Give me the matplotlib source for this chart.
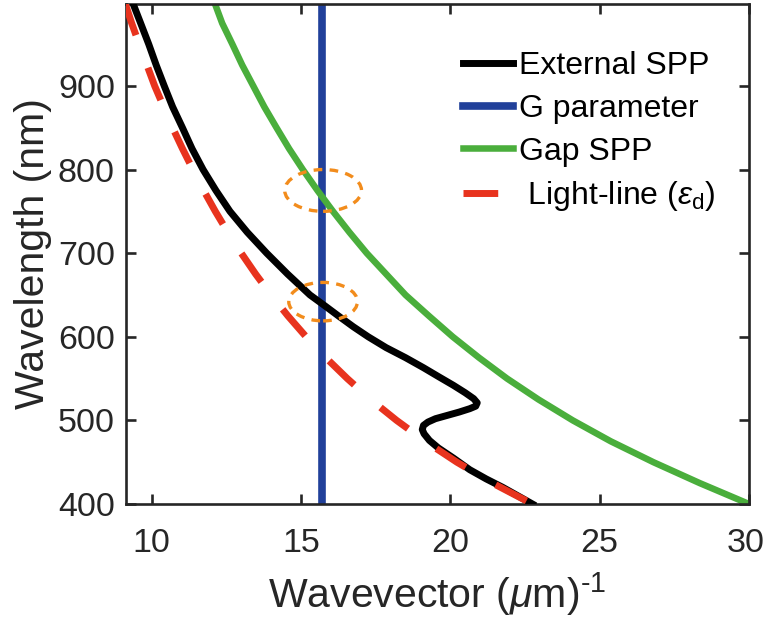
import matplotlib
matplotlib.use("Agg")
import matplotlib.pyplot as plt
from matplotlib.patches import Ellipse
from matplotlib.transforms import ScaledTranslation

plt.rcParams["font.family"] = ["Liberation Sans", "DejaVu Sans"]
plt.rcParams["mathtext.fontset"] = "custom"
plt.rcParams["mathtext.rm"] = "Liberation Sans"
plt.rcParams["mathtext.it"] = "Liberation Sans:italic"

# External SPP (wavevector in 1/um, wavelength in nm)
ext_k = [9.38, 9.63, 9.9, 10.15, 10.42, 10.7, 11.03, 11.35, 11.72, 12.15, 12.62,
         13.2, 13.85, 14.55, 15.3, 15.8, 16.25, 16.75, 17.25, 17.85, 18.5, 19.1,
         19.62, 20.1, 20.5, 20.78, 20.9, 20.85, 20.65, 20.3, 19.9, 19.5, 19.25,
         19.1, 19.06, 19.12, 19.3, 19.6, 20.1, 20.65, 21.2, 21.75, 22.25, 22.75]
ext_wl = [998, 975, 950, 925, 900, 875, 850, 825, 800, 775, 750,
          725, 700, 675, 650, 637, 625, 612, 600, 587, 575, 563,
          552, 542, 533, 526, 521, 517, 514, 510, 506, 502, 498,
          494, 489, 484, 476, 467, 455, 441, 430, 420, 410, 400]

# Gap SPP
gap_wl = [1000, 975, 950, 925, 900, 875, 850, 825, 800, 775, 750, 725, 700,
          675, 650, 625, 600, 575, 550, 525, 500, 475, 450, 425, 400]
gap_k = [12.1, 12.36, 12.7, 13.03, 13.4, 13.77, 14.18, 14.6, 15.06, 15.55, 16.07,
         16.62, 17.2, 17.85, 18.5, 19.28, 20.08, 20.96, 21.9, 22.95, 24.1, 25.37,
         26.8, 28.35, 30.0]

# light line
light_wl = [1000, 975, 950, 925, 900, 875, 850, 825, 800, 775, 750, 725, 700,
            675, 650, 625, 600, 575, 550, 525, 500, 475, 450, 425, 400]
light_k = [9.1, 9.33, 9.58, 9.84, 10.1, 10.4, 10.7, 11.03, 11.38, 11.74, 12.13,
           12.55, 13.0, 13.48, 14.0, 14.56, 15.17, 15.83, 16.55, 17.33, 18.2,
           19.16, 20.22, 21.41, 22.75]

# G parameter
g_k = 15.7

# highlighted crossings (center k, center wl, width, height)
ring_k = [15.74, 15.74]
ring_wl = [775, 642]
ring_w = [2.57, 2.3]
ring_h = [50, 46]

axis_col = "#262626"

fig = plt.figure(figsize=(7.66, 6.30), dpi=100)
ax = fig.add_axes([0.1645, 0.2, 0.8133, 0.7937])

ax.plot(ext_k, ext_wl, color="black", lw=5, label="External SPP",
        solid_joinstyle="round", zorder=3)
ax.axvline(g_k, color="#21409a", lw=5.5, label="G parameter", zorder=2)
ax.plot(gap_k, gap_wl, color="#4aae3c", lw=4.7, label="Gap SPP",
        solid_joinstyle="round", zorder=2)
ax.plot(light_k, light_wl, color="#e8331e", lw=5, ls=(0, (5, 5)),
        label=r" Light-line ($\epsilon_\mathrm{d}$)", dash_capstyle="butt", zorder=4)

for k, wl, w, h in zip(ring_k, ring_wl, ring_w, ring_h):
    ax.add_patch(Ellipse((k, wl), w, h, fill=False, ec="#f28c1c", lw=2.4,
                         ls=(0, (2.6, 2.2)), zorder=5))

ax.set_xlim(9.14, 30)
ax.set_ylim(400, 998)
ax.set_xticks([10, 15, 20, 25, 30])
ax.set_yticks([400, 500, 600, 700, 800, 900])

for s in ax.spines.values():
    s.set_linewidth(1.9)
    s.set_color(axis_col)
ax.tick_params(direction="in", length=7, width=1.9, colors=axis_col,
               labelsize=24.5, top=True, right=True)
ax.tick_params(axis="x", pad=17)
ax.tick_params(axis="y", pad=8)

# keep the last x tick label inside the figure
last = ax.get_xticklabels()[-1]
last.set_transform(last.get_transform() + ScaledTranslation(-3 / 100, 0, fig.dpi_scale_trans))

ax.set_xlabel(r"Wavevector ($\mu$m)$^{\text{-1}}$", fontsize=29.5, color=axis_col,
              labelpad=8)
ax.set_ylabel("Wavelength (nm)", fontsize=29.5, color=axis_col, labelpad=4)

leg = ax.legend(loc="upper left", bbox_to_anchor=(0.541, 0.906), frameon=False,
                fontsize=23, handlelength=1.55, handletextpad=0.2,
                labelspacing=0.4, borderpad=0, borderaxespad=0)

fig.savefig("out.png", dpi=100)
